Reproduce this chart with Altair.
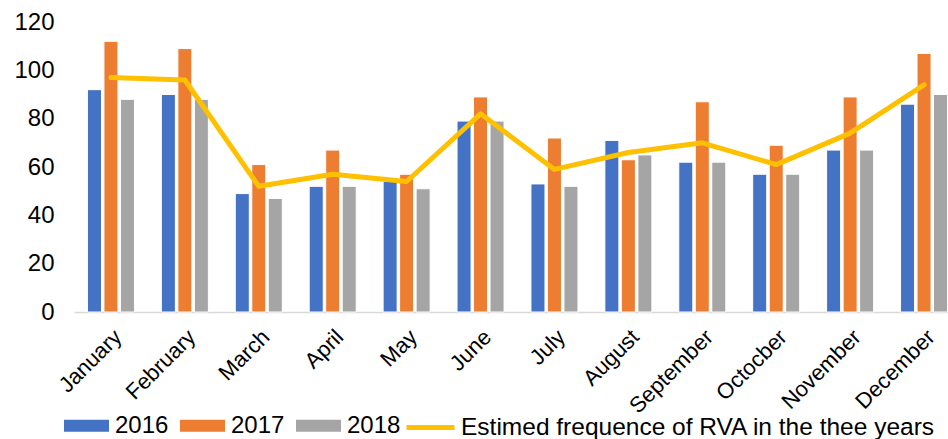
import altair as alt
import pandas as pd

months = ["January", "February", "March", "April", "May", "June", "July",
          "August", "September", "Octocber", "November", "December"]
years = ["2016", "2017", "2018"]
v2016 = [92, 90, 49, 52, 54, 79, 53, 71, 62, 57, 67, 86]
v2017 = [112, 109, 61, 67, 57, 89, 72, 63, 87, 69, 89, 107]
v2018 = [88, 88, 47, 52, 51, 79, 52, 65, 62, 57, 67, 90]
estimate = [97, 96, 52, 57, 54, 82, 59, 66, 70, 61, 74, 94]
line_label = "Estimed frequence of RVA in the thee years"
bar_colors = ["#4472C4", "#ED7D31", "#A5A5A5"]
line_color = "#FFC000"

rows = []
for i, m in enumerate(months):
    for y, vals in zip(years, [v2016, v2017, v2018]):
        rows.append({"month": m, "year": y, "value": vals[i]})
bars_df = pd.DataFrame(rows)
line_df = pd.DataFrame({"month": months, "value": estimate, "series": [line_label] * len(months)})

FONT = "Liberation Sans"

xscale = alt.Scale(domain=months, range=[0, 887], paddingInner=0.364, paddingOuter=0.182)
yscale = alt.Scale(domain=[0, 120], nice=False)

xaxis = alt.Axis(labelAngle=-45, labelFontSize=22, labelColor="black", ticks=False,
                 domainColor="#D9D9D9", domainWidth=1.5, labelPadding=14, title=None)
yaxis = alt.Axis(values=[0, 20, 40, 60, 80, 100, 120], labelFontSize=24, labelColor="black",
                 domain=False, ticks=False, grid=False, labelPadding=20, title=None)

bars = alt.Chart(bars_df).mark_bar(stroke="white", strokeWidth=1).encode(
    x=alt.X("month:N", sort=months, scale=xscale, axis=xaxis),
    xOffset=alt.XOffset("year:N", sort=years, scale=alt.Scale(paddingInner=0.15, paddingOuter=0)),
    y=alt.Y("value:Q", scale=yscale, axis=yaxis),
    color=alt.Color("year:N", sort=years,
                    scale=alt.Scale(domain=years, range=bar_colors),
                    legend=alt.Legend(orient="none", legendX=-10, legendY=381,
                                      direction="horizontal", title=None,
                                      symbolType="M-1,-0.27L1,-0.27L1,0.27L-1,0.27Z",
                                      symbolSize=2025, symbolStrokeWidth=0, symbolOpacity=1,
                                      labelFontSize=24, labelColor="black", labelOffset=6,
                                      columnPadding=11, padding=0, labelLimit=200)),
)

line = alt.Chart(line_df).mark_line(strokeWidth=5, strokeJoin="round", strokeCap="round").encode(
    x=alt.X("month:N", sort=months, scale=xscale, axis=xaxis),
    y=alt.Y("value:Q", scale=yscale, axis=yaxis),
    stroke=alt.Stroke("series:N", scale=alt.Scale(domain=[line_label], range=[line_color]),
                      legend=alt.Legend(orient="none", legendX=330, legendY=379,
                                        direction="horizontal", title=None,
                                        symbolType="stroke", symbolSize=2304,
                                        symbolStrokeWidth=5, labelFontSize=24.5,
                                        labelColor="black", labelOffset=4, padding=0,
                                        labelLimit=700)),
)

chart = alt.layer(bars, line).properties(
    width=874, height=290,
    autosize=alt.AutoSizeParams(type="none"),
    padding={"left": 74, "top": 22, "right": 0, "bottom": 127},
).configure(font=FONT).configure_view(stroke=None)

chart.save("out.html", embed_options={"renderer": "svg", "actions": False})
